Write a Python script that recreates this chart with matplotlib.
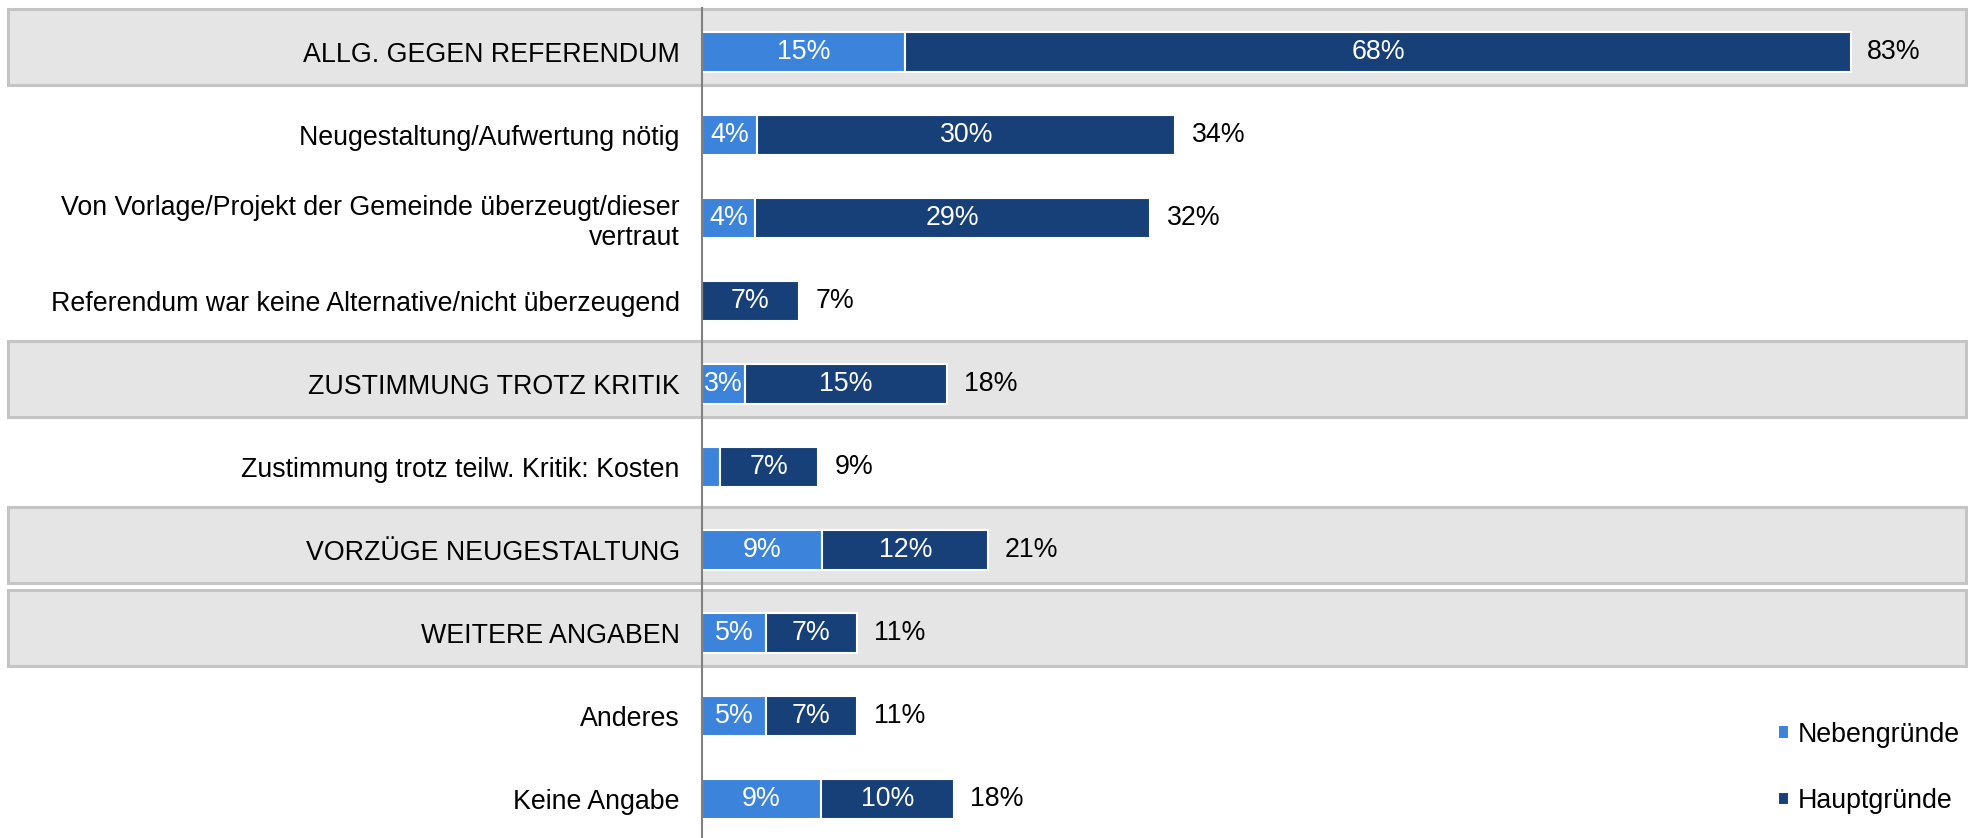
import matplotlib
matplotlib.use('Agg')
import matplotlib.pyplot as plt
import matplotlib.transforms as mtransforms
from matplotlib.patches import Rectangle

plt.rcParams['font.family'] = ['Liberation Sans', 'DejaVu Sans']

# Data
categories = [
    'ALLG. GEGEN REFERENDUM',
    'Neugestaltung/Aufwertung nötig',
    'Von Vorlage/Projekt der Gemeinde überzeugt/dieser\nvertraut',
    'Referendum war keine Alternative/nicht überzeugend',
    'ZUSTIMMUNG TROTZ KRITIK',
    'Zustimmung trotz teilw. Kritik: Kosten',
    'VORZÜGE NEUGESTALTUNG',
    'WEITERE ANGABEN',
    'Anderes',
    'Keine Angabe',
]
neben = [14.7, 4.0, 3.8, 0, 3.1, 1.3, 8.7, 4.6, 4.6, 8.6]
haupt = [68.3, 30.2, 28.6, 7.0, 14.6, 7.1, 12.0, 6.6, 6.6, 9.6]
totals = ['83%', '34%', '32%', '7%', '18%', '9%', '21%', '11%', '11%', '18%']
group_rows = [0, 4, 6, 7]

c_neben = '#3c83dc'
c_haupt = '#173f78'

W, H = 1974, 838
fig = plt.figure(figsize=(W / 100, H / 100), dpi=100)
ax_left = 702 / W
ax = fig.add_axes([ax_left, 0, 1 - ax_left, 1 - 8 / H])

px_per_pct = 13.84
ax.set_xlim(0, (W - 702) / px_per_pct)
ax.set_ylim((838 - 52) / 83, (8 - 52) / 83)

# grey bands behind the group rows
band_tr = mtransforms.blended_transform_factory(fig.transFigure, ax.transData)
for r in group_rows:
    ax.add_patch(Rectangle((8 / W, r - 0.52), (W - 16) / W, 0.92, transform=band_tr,
                           facecolor='#e5e5e5', edgecolor='#c4c4c4', lw=2.2,
                           clip_on=False, zorder=0))

y = list(range(len(categories)))
b1 = ax.barh(y, neben, height=0.48, color=c_neben, edgecolor='white', lw=1.5,
             label='Nebengründe', zorder=2)
b2 = ax.barh(y, haupt, left=neben, height=0.48, color=c_haupt, edgecolor='white', lw=1.5,
             label='Hauptgründe', zorder=2)

fs = 19.3
for i in y:
    if neben[i] >= 3:
        ax.text(neben[i] / 2, i, f'{neben[i]:.0f}%', ha='center', va='center',
                color='white', fontsize=fs, zorder=3)
    if haupt[i] > 0:
        ax.text(neben[i] + haupt[i] / 2, i, f'{haupt[i]:.0f}%', ha='center', va='center',
                color='white', fontsize=fs, zorder=3)
    ax.text(neben[i] + haupt[i] + 1.2, i, totals[i], ha='left', va='center',
            color='black', fontsize=fs, zorder=3)

ax.set_yticks(y)
ax.set_yticklabels(categories, fontsize=fs, linespacing=1.2)
ax.tick_params(axis='y', length=0, pad=16)
ax.set_xticks([])
for s in ['top', 'right', 'bottom']:
    ax.spines[s].set_visible(False)
ax.spines['left'].set_color('#808080')
ax.spines['left'].set_linewidth(1.5)
ax.patch.set_visible(False)

fig.legend(handles=[b1, b2], loc='center left', bbox_to_anchor=(1778 / W, 1 - 768 / H),
           frameon=False, fontsize=fs, handlelength=0.42, handleheight=0.42,
           handletextpad=0.3, labelspacing=1.5, borderpad=0, borderaxespad=0)

fig.savefig('out.png', dpi=100)
